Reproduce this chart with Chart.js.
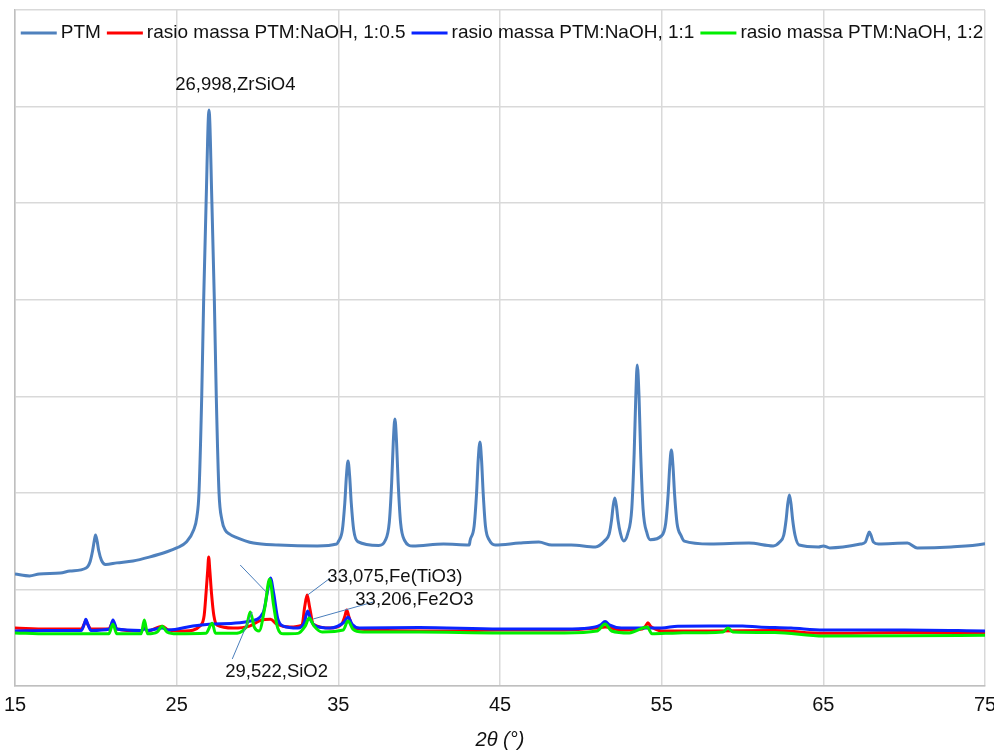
<!DOCTYPE html>
<html>
<head>
<meta charset="utf-8">
<script src="https://cdn.jsdelivr.net/npm/chart.js@4.4.1/dist/chart.umd.min.js"></script>
<style>
html,body{margin:0;padding:0;background:#fff;}
#wrap{width:994px;height:755px;}
</style>
</head>
<body>
<div id="wrap"><canvas id="c" width="994" height="755"></canvas></div>
<script>
// ---- data (2θ in degrees, intensity in arbitrary counts) ----
const seriesNames = ['PTM', 'rasio massa PTM:NaOH, 1:0.5', 'rasio massa PTM:NaOH, 1:1', 'rasio massa PTM:NaOH, 1:2'];
const xTicks = [15, 25, 35, 45, 55, 65, 75];

const ptmX = [15.0,15.9,16.5,17.8,18.4,19.4,19.65,19.8,19.9,19.98,20.08,20.18,20.35,20.6,21.3,22.3,23.3,24.4,25.0,25.6,26.05,26.25,26.38,26.55,26.67,26.82,27.0,27.18,27.33,27.45,27.62,27.8,28.0,28.3,28.6,29.75,31.3,33.7,34.9,35.0,35.25,35.4,35.5,35.6,35.7,35.8,35.95,36.2,37.5,37.9,38.15,38.3,38.4,38.5,38.6,38.7,38.85,39.1,39.6,41.5,43.1,43.15,43.4,43.55,43.65,43.76,43.86,43.96,44.1,44.35,44.7,46.2,47.4,48.2,49.4,50.9,51.5,51.75,51.9,52.0,52.1,52.2,52.3,52.45,52.65,52.9,53.15,53.3,53.4,53.49,53.6,53.7,53.85,54.1,54.3,55.0,55.25,55.4,55.5,55.6,55.7,55.8,55.95,56.2,56.4,58.0,60.4,61.9,62.3,62.55,62.7,62.8,62.9,63.0,63.1,63.25,63.5,64.7,65.0,65.4,67.3,67.6,67.75,67.84,67.95,68.1,68.4,70.2,70.8,72.9,74.9,75.0];
const ptmY = [1160,1140,1160,1170,1190,1222,1290,1400,1500,1563,1500,1400,1300,1258,1275,1295,1335,1390,1430,1490,1615,1750,2000,3000,4000,5000,5965,5000,4000,3000,2000,1720,1615,1570,1545,1480,1460,1450,1470,1495,1617,1895,2173,2330,2173,1895,1617,1495,1455,1507,1691,2110,2529,2765,2529,2110,1691,1507,1450,1470,1460,1507,1656,1996,2336,2527,2336,1996,1656,1507,1460,1480,1490,1460,1460,1440,1508,1572,1718,1865,1947,1865,1718,1580,1502,1578,1833,2415,2997,3324,2997,2415,1833,1578,1515,1557,1686,1982,2278,2444,2278,1982,1686,1557,1500,1470,1480,1450,1490,1561,1724,1887,1978,1887,1724,1561,1460,1440,1450,1430,1470,1490,1560,1595,1560,1490,1470,1480,1430,1440,1470,1475];

const r05X = [15.0,17.0,19.1,19.3,19.38,19.5,19.7,20.8,21.06,21.3,22.8,23.0,23.2,24.1,24.5,25.5,26.5,26.7,26.82,26.92,26.98,27.05,27.15,27.3,27.5,28.5,29.5,30.2,30.8,31.2,32.0,32.75,32.92,33.07,33.22,33.45,34.5,35.2,35.4,35.52,35.65,35.9,36.3,38.0,42.0,45.0,49.0,51.0,51.5,52.5,53.8,54.0,54.15,54.3,54.6,55.0,58.0,62.0,65.0,70.0,75.0];
const r05Y = [600,590,590,650,680,640,590,590,660,590,570,600,570,620,580,570,630,730,970,1200,1335,1200,970,730,630,600,620,680,690,640,610,630,820,942,820,640,600,640,720,787,720,610,590,575,570,580,580,600,610,580,590,620,655,620,590,570,570,575,545,555,555];

const r1X = [15.0,17.0,19.1,19.3,19.38,19.5,19.7,20.85,21.06,21.3,22.8,23.0,23.2,24.1,24.5,26.0,27.0,28.5,29.5,30.35,30.6,30.8,31.0,31.25,31.6,32.5,32.9,33.1,33.3,33.6,34.5,35.35,35.6,35.85,36.3,40.0,45.0,49.0,50.5,51.2,51.5,51.8,52.5,55.0,56.0,58.0,60.0,61.0,63.0,65.0,70.0,75.0];
const r1Y = [570,575,575,650,690,640,575,590,683,590,575,590,575,600,580,621,640,650,670,760,960,1118,960,700,620,600,660,777,680,620,600,660,714,640,600,605,590,590,600,630,668,630,600,600,620,621,621,611,600,580,580,570];

const r2X = [15.0,17.0,20.8,21.06,21.3,22.8,23.0,23.2,23.8,24.1,24.4,25.0,26.8,27.2,27.4,28.5,29.3,29.55,29.8,30.1,30.45,30.75,31.0,31.25,31.6,32.5,32.95,33.2,33.5,34.0,35.3,35.6,35.9,36.5,40.0,45.0,49.0,51.0,51.5,51.9,53.0,54.1,54.4,56.0,58.8,59.1,59.4,62.0,65.0,70.0,75.0];
const r2Y = [549,540,540,640,540,540,683,540,560,620,560,540,545,650,545,545,610,766,610,570,810,1108,830,600,540,545,620,704,620,560,580,673,590,560,560,550,550,570,642,570,550,611,540,550,560,600,560,555,518,520,525];

// annotation texts and their anchors (data units)
const annTexts = ['26,998,ZrSiO4', '33,075,Fe(TiO3)', '33,206,Fe2O3', '29,522,SiO2'];
const annTextX = [24.91, 34.32, 36.05, 28.0];
const annTextY = [6224, 1129, 891, 145];
// leader lines: from (x, y) to (x, y), data units
const leaderFromX = [34.5, 37.17, 28.44, 28.93];
const leaderFromY = [1118, 870, 280, 1253];
const leaderToX = [33.1, 33.45, 29.67, 30.54];
const leaderToY = [942, 694, 766, 973];

const colors = ['#4f81bd', '#ff0000', '#0a24ff', '#00ee00'];

function pts(xs, ys) { return xs.map((x, i) => ({x: x, y: ys[i]})); }

const FONT = "'Liberation Sans', Arial, sans-serif";

// legend drawn over the top of the plot area (as in the reference)
const overlayLegend = {
  id: 'overlayLegend',
  afterDraw(chart) {
    const ctx = chart.ctx, area = chart.chartArea;
    const sample = 36, gapText = 4, gapItem = 6;
    ctx.save();
    ctx.font = '19px ' + FONT;
    ctx.textBaseline = 'middle';
    ctx.textAlign = 'left';
    const ds = chart.data.datasets;
    const widths = ds.map(d => sample + gapText + ctx.measureText(d.label).width);
    const total = widths.reduce((a, b) => a + b, 0) + gapItem * (ds.length - 1);
    let x = (area.left + area.right) / 2 - total / 2 + 2;
    const y = area.top + 23;
    ds.forEach((d, i) => {
      ctx.strokeStyle = d.borderColor;
      ctx.lineWidth = 3;
      ctx.beginPath();
      ctx.moveTo(x, y);
      ctx.lineTo(x + sample, y);
      ctx.stroke();
      ctx.fillStyle = '#111';
      ctx.fillText(d.label, x + sample + gapText, y);
      x += widths[i] + gapItem;
    });
    ctx.restore();
  }
};

const annotationPlugin = {
  id: 'xrdAnnotations',
  afterDatasetsDraw(chart) {
    const ctx = chart.ctx, xs = chart.scales.x, ys = chart.scales.y;
    ctx.save();
    ctx.strokeStyle = '#4a7ebb';
    ctx.lineWidth = 1;
    for (let i = 0; i < leaderFromX.length; i++) {
      ctx.beginPath();
      ctx.moveTo(xs.getPixelForValue(leaderFromX[i]), ys.getPixelForValue(leaderFromY[i]));
      ctx.lineTo(xs.getPixelForValue(leaderToX[i]), ys.getPixelForValue(leaderToY[i]));
      ctx.stroke();
    }
    ctx.fillStyle = '#111';
    ctx.font = '18.5px ' + FONT;
    ctx.textAlign = 'left';
    ctx.textBaseline = 'middle';
    for (let i = 0; i < annTexts.length; i++) {
      ctx.fillText(annTexts[i], xs.getPixelForValue(annTextX[i]), ys.getPixelForValue(annTextY[i]));
    }
    ctx.restore();
  }
};

const datasets = [
  {label: seriesNames[0], data: pts(ptmX, ptmY), order: 3},
  {label: seriesNames[1], data: pts(r05X, r05Y), order: 2},
  {label: seriesNames[2], data: pts(r1X, r1Y), order: 1},
  {label: seriesNames[3], data: pts(r2X, r2Y), order: 0}
].map((d, i) => Object.assign(d, {
  borderColor: colors[i], backgroundColor: colors[i], borderWidth: 3,
  pointRadius: 0, pointHoverRadius: 0,
  cubicInterpolationMode: 'monotone', fill: false
}));

new Chart(document.getElementById('c'), {
  type: 'line',
  data: {datasets: datasets},
  options: {
    responsive: false, animation: false, devicePixelRatio: 1,
    layout: {padding: {top: 10, left: 15, right: 9, bottom: 0}},
    plugins: {
      tooltip: {enabled: false},
      legend: {display: false}
    },
    scales: {
      x: {
        type: 'linear', min: 15, max: 75,
        afterBuildTicks: (axis) => { axis.ticks = xTicks.map(v => ({value: v})); },
        afterFit: (axis) => { axis.paddingLeft = 0; axis.paddingRight = 0; },
        ticks: {color: '#111', font: {family: FONT, size: 20}, padding: 7, maxRotation: 0},
        grid: {color: '#d9d9d9', lineWidth: 1.5, drawTicks: false},
        border: {color: '#bfbfbf', width: 1.5},
        title: {display: true, text: '2θ (°)', color: '#111', font: {family: FONT, size: 20, style: 'italic'}, padding: {top: 4, bottom: 3}}
      },
      y: {
        min: 0, max: 7000,
        afterFit: (axis) => { axis.width = 0; },
        ticks: {display: false, stepSize: 1000},
        grid: {color: '#d9d9d9', lineWidth: 1.5, drawTicks: false},
        border: {color: '#bfbfbf', width: 1.5}
      }
    }
  },
  plugins: [annotationPlugin, overlayLegend]
});
</script>
</body>
</html>
